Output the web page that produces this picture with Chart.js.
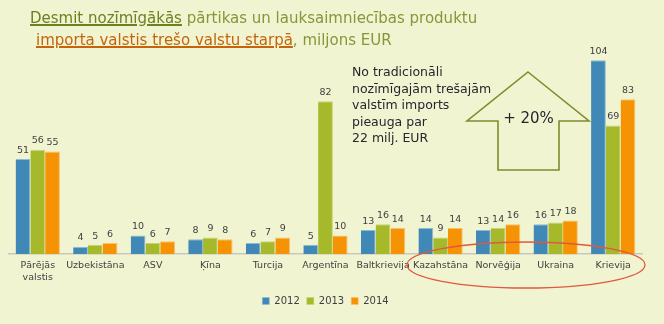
<!DOCTYPE html>
<html>
<head>
<meta charset="utf-8">
<script src="https://cdn.jsdelivr.net/npm/chart.js@4/dist/chart.umd.min.js"></script>
<style>
  html, body { margin: 0; padding: 0; background: #f1f4d1; }
  #wrap { position: relative; width: 664px; height: 324px; overflow: hidden; }
  #chart { position: absolute; left: 0; top: 0; }
  .title { position: absolute; font-family: "DejaVu Sans", sans-serif; font-size: 15px; color: #86963a; white-space: nowrap; }
  .u1 { color: #6e8020; text-decoration: underline; text-decoration-thickness: 1.5px; }
  .u2 { color: #c4650e; text-decoration: underline; text-decoration-thickness: 1.5px; }
  #note { position: absolute; left: 352px; top: 64px; font-family: "DejaVu Sans", sans-serif; font-size: 12.5px; line-height: 16.5px; color: #26262e; }
  #pct { position: absolute; left: 498px; top: 109px; width: 61px; text-align: center; font-family: "DejaVu Sans", sans-serif; font-size: 15px; color: #26262e; }
</style>
</head>
<body>
<div id="wrap">
  <canvas id="chart" width="664" height="324"></canvas>
  <div class="title" style="left:30px; top:9px;"><span class="u1">Desmit nozīmīgākās</span> pārtikas un lauksaimniecības produktu</div>
  <div class="title" style="left:36px; top:31px;"><span class="u2">importa valstis trešo valstu starpā</span>, miljons EUR</div>
  <div id="note">No tradicionāli<br>nozīmīgajām trešajām<br>valstīm imports<br>pieauga par<br>22 milj. EUR</div>
  <div id="pct">+ 20%</div>
</div>
<script>
var categories = [["Pārējās", "valstis"], "Uzbekistāna", "ASV", "Ķīna", "Turcija", "Argentīna",
    "Baltkrievija", "Kazahstāna", "Norvēģija", "Ukraina", "Krievija"];
var values2012 = [51, 4, 10, 8, 6, 5, 13, 14, 13, 16, 104];
var values2013 = [56, 5, 6, 9, 7, 82, 16, 9, 14, 17, 69];
var values2014 = [55, 6, 7, 8, 9, 10, 14, 14, 16, 18, 83];
var seriesNames = ["2012", "2013", "2014"];

var fontFamily = '"DejaVu Sans", sans-serif';

// value labels above each bar
var valueLabels = {
    id: "valueLabels",
    afterDatasetsDraw: function (chart) {
        var ctx = chart.ctx;
        ctx.save();
        ctx.font = "9.5px " + fontFamily;
        ctx.fillStyle = "#404040";
        ctx.textAlign = "center";
        ctx.textBaseline = "bottom";
        chart.data.datasets.forEach(function (ds, i) {
            chart.getDatasetMeta(i).data.forEach(function (bar, j) {
                ctx.fillText(ds.data[j], bar.x, bar.y - 4);
            });
        });
        ctx.restore();
    }
};

// arrow and ellipse drawn on top
var decorations = {
    id: "decorations",
    afterDraw: function (chart) {
        var ctx = chart.ctx;
        ctx.save();
        ctx.strokeStyle = "#7e8c2c";
        ctx.lineWidth = 1.6;
        ctx.beginPath();
        ctx.moveTo(528, 72);
        ctx.lineTo(589, 121);
        ctx.lineTo(559, 121);
        ctx.lineTo(559, 170);
        ctx.lineTo(498, 170);
        ctx.lineTo(498, 121);
        ctx.lineTo(467, 121);
        ctx.closePath();
        ctx.stroke();

        ctx.strokeStyle = "#e0583e";
        ctx.lineWidth = 1.3;
        ctx.beginPath();
        ctx.ellipse(526, 265, 119, 23, 0, 0, Math.PI * 2);
        ctx.stroke();
        ctx.restore();
    }
};

var colors = ["#4088b6", "#a6b92a", "#f69304"];
var borders = ["#8fbad6", "#c8d470", "#f9c070"];
var allValues = [values2012, values2013, values2014];

new Chart(document.getElementById("chart"), {
    type: "bar",
    data: {
        labels: categories,
        datasets: allValues.map(function (vals, i) {
            return {
                label: seriesNames[i],
                data: vals,
                backgroundColor: colors[i],
                borderColor: borders[i],
                borderWidth: { top: 1, right: 1, left: 0, bottom: 0 },
                barPercentage: 1,
                categoryPercentage: 0.77
            };
        })
    },
    options: {
        responsive: false,
        animation: false,
        layout: { padding: { left: 9, right: 22, top: 49, bottom: 8 } },
        scales: {
            x: {
                grid: { display: false, drawTicks: false },
                border: { color: "#c8c8c0", width: 1.5 },
                ticks: { color: "#404040", font: { family: fontFamily, size: 9.5 }, padding: 6, maxRotation: 0, autoSkip: false }
            },
            y: { display: false, min: 0, max: 110 }
        },
        plugins: {
            legend: {
                position: "bottom",
                labels: { boxWidth: 7, boxHeight: 7, padding: 7, color: "#404040", font: { family: fontFamily, size: 10 } }
            },
            tooltip: { enabled: false }
        }
    },
    plugins: [valueLabels, decorations]
});
</script>
</body>
</html>
